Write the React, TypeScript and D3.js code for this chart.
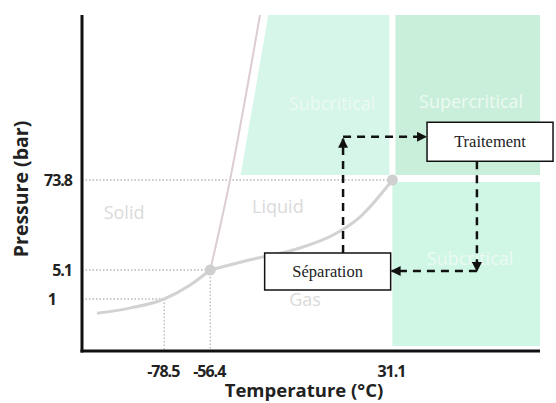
import React from "react";
import * as d3 from "d3";

// phase diagram of CO2
const sublimationT = [-110.8, -95, -78.5, -66, -56.4];
const sublimationP = [0.72, 0.81, 1, 2.2, 5.1];
const boilingT = [-56.4, -37.3, -13.3, 2.6, 15.5, 31.1];
const boilingP = [5.1, 6.9, 9.8, 14.4, 24.6, 73.8];
const meltingT = [-56.4, -46.9, -32.5];
const meltingP = [5.1, 73.8, 1000];

const xTicks = [-78.5, -56.4, 31.1];
const yTicks = [1, 5.1, 73.8];
const yTickNames = ["1", "5.1", "73.8"];
const xTickNames = ["-78.5", "-56.4", "31.1"];

const phaseNames = ["Solid", "Liquid", "Gas"];
const phaseT = [-97.8, -23.9, -10.9];
const phaseP = [23.2, 27.7, 0.85];

const zoneNames = ["Subcritical", "Supercritical", "Subcritical"];
const zoneT = [2.1, 68.9, 68.4];
const zoneP = [223, 229, 5.92];

const W = 556;
const H = 403;

export default function App() {
  const x = d3.scaleLinear().domain([-118, 102]).range([82, 540]);
  const y = d3.scaleLog().domain([0.3, 1, 5.1, 73.8, 1000]).range([351, 299, 270, 180, 15]);

  const line = d3
    .line<[number, number]>()
    .x((d) => x(d[0]))
    .y((d) => y(d[1]))
    .curve(d3.curveMonotoneX);
  const straight = d3
    .line<[number, number]>()
    .x((d) => x(d[0]))
    .y((d) => y(d[1]))
    .curve(d3.curveCatmullRom);

  const sub = sublimationT.map((t, i) => [t, sublimationP[i]] as [number, number]);
  const boil = boilingT.map((t, i) => [t, boilingP[i]] as [number, number]);
  const melt = meltingT.map((t, i) => [t, meltingP[i]] as [number, number]);

  const top = y(1000);
  const bottom = y(0.3);
  const xc = x(31.1);
  const yc = y(73.8);
  const xr = x(102);
  const gap = 3;

  // subcritical liquid zone follows the melting line, slightly offset
  const liquidZone = [
    [x(-28.5), top],
    [xc - gap, top],
    [xc - gap, yc - gap - 2],
    [x(-41.8), yc - gap - 2],
  ];

  // annotation boxes
  const sep = { cx: x(0), cy: y(5.1) + 1.5, w: 126, h: 37, label: "Séparation" };
  const tra = { cx: x(78), cy: y(135), w: 126, h: 39, label: "Traitement" };
  const ax1 = x(7.4);
  const ax2 = x(71.7);
  const ay1 = tra.cy - 5;
  const ay2 = y(5.1) + 1;

  return (
    <svg
      width={W}
      height={H}
      style={{ position: "absolute", left: 0, top: 0, background: "#fff" }}
      fontFamily="'Open Sans', sans-serif"
    >
      <defs>
        <marker id="ah" viewBox="0 0 10 10" refX="9" refY="5" markerWidth="4" markerHeight="4" orient="auto">
          <path d="M0,0 L10,5 L0,10 z" fill="#111" />
        </marker>
      </defs>

      {/* zones */}
      <path d={"M" + liquidZone.map((p) => p.join(",")).join("L") + "Z"} fill="#d5f6e8" />
      <rect x={xc + gap} y={top} width={xr - xc - gap} height={yc - gap - 2 - top} fill="#c9efda" />
      <rect x={xc} y={yc + 2} width={xr - xc} height={bottom - 5 - yc - 2} fill="#d0f7e6" />

      {zoneNames.map((n, i) => (
        <text key={i} x={x(zoneT[i])} y={y(zoneP[i])} textAnchor="middle" fontSize={18} fill="#ecfaf3">
          {n}
        </text>
      ))}

      {/* dotted guides */}
      <g stroke="#b8b8b8" strokeWidth={1.3} strokeDasharray="1.5,2" fill="none">
        <line x1={x(-118)} x2={xc} y1={yc} y2={yc} />
        <line x1={x(-118)} x2={x(-56.4)} y1={y(5.1)} y2={y(5.1)} />
        <line x1={x(-118)} x2={x(-78.5)} y1={y(1)} y2={y(1)} />
        <line x1={x(-78.5)} x2={x(-78.5)} y1={y(1)} y2={bottom} />
        <line x1={x(-56.4)} x2={x(-56.4)} y1={y(5.1)} y2={bottom} />
      </g>

      {/* phase names */}
      {phaseNames.map((n, i) => (
        <text key={n} x={x(phaseT[i])} y={y(phaseP[i])} textAnchor="middle" fontSize={18} fill="#dadada">
          {n}
        </text>
      ))}

      {/* phase boundaries */}
      <path d={straight(melt) || ""} fill="none" stroke="#dccdd0" strokeWidth={2} />
      <path d={line(sub) || ""} fill="none" stroke="#d2d2d2" strokeWidth={3} />
      <path d={line(boil) || ""} fill="none" stroke="#d2d2d2" strokeWidth={3} />
      <circle cx={x(-56.4)} cy={y(5.1)} r={5.5} fill="#cfcfcf" />
      <circle cx={xc} cy={yc} r={5.5} fill="#cfcfcf" />

      {/* arrows */}
      <g stroke="#111" strokeWidth={2.5} strokeDasharray="8,6" fill="none">
        <line x1={ax1} x2={ax1} y1={sep.cy - sep.h / 2} y2={ay1 + 2} markerEnd="url(#ah)" />
        <line x1={ax1} x2={tra.cx - tra.w / 2 - 1} y1={ay1} y2={ay1} markerEnd="url(#ah)" />
        <line x1={ax2} x2={ax2} y1={tra.cy + tra.h / 2} y2={ay2} markerEnd="url(#ah)" />
        <line x1={ax2} x2={sep.cx + sep.w / 2 + 1} y1={ay2} y2={ay2} markerEnd="url(#ah)" />
      </g>

      {[sep, tra].map((b) => (
        <g key={b.label}>
          <rect
            x={b.cx - b.w / 2}
            y={b.cy - b.h / 2}
            width={b.w}
            height={b.h}
            fill="#fff"
            stroke="#111"
            strokeWidth={1.5}
          />
          <text
            x={b.cx}
            y={b.cy + 5.5}
            textAnchor="middle"
            fontSize={16.5}
            fontFamily="'Liberation Serif', serif"
            fill="#222"
          >
            {b.label}
          </text>
        </g>
      ))}

      {/* axes */}
      <line x1={x(-118)} x2={x(-118)} y1={top} y2={bottom + 1.5} stroke="#111" strokeWidth={3} />
      <line x1={x(-118) - 1.5} x2={xr} y1={bottom} y2={bottom} stroke="#111" strokeWidth={3} />

      <g fontWeight="bold" fontSize={16} fill="#222" letterSpacing="-1">
        {yTicks.map((v, i) => (
          <text key={v} x={i === 0 ? 56 : 72} y={y(v) + 6} textAnchor="end">
            {yTickNames[i]}
          </text>
        ))}
        {xTicks.map((v, i) => (
          <text key={v} x={x(v) - 1} y={bottom + 26} textAnchor="middle">
            {xTickNames[i]}
          </text>
        ))}
      </g>

      <text x={304} y={397} textAnchor="middle" fontSize={18.5} fontWeight="bold" fill="#222">
        Temperature (°C)
      </text>
      <text
        transform={`translate(28,${189}) rotate(-90)`}
        textAnchor="middle"
        fontSize={19.5}
        fontWeight="bold"
        fill="#222"
      >
        Pressure (bar)
      </text>
    </svg>
  );
}
